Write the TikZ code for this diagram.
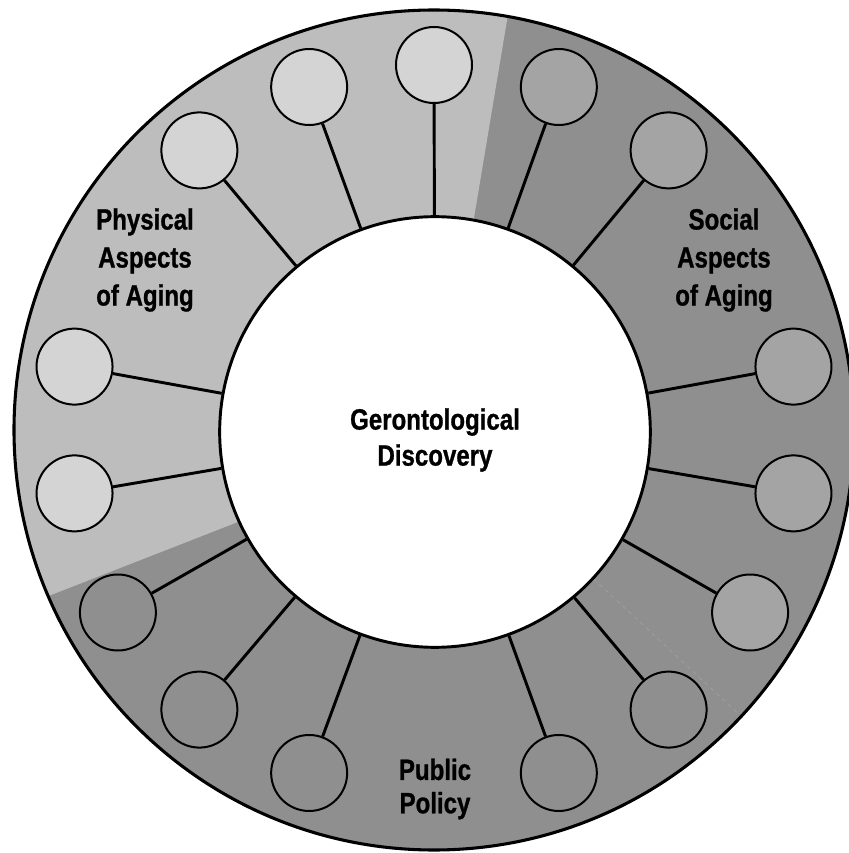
\documentclass[tikz,border=0pt]{standalone}
\usepackage{fontspec}
\newfontfamily\lblfont{Liberation Sans}[FakeStretch=0.82,FakeBold=0.9]
\definecolor{ringdark}{HTML}{8F8F8F}
\definecolor{ringlight}{HTML}{BDBDBD}
\definecolor{physdot}{HTML}{D4D4D4}
\definecolor{socdot}{HTML}{A4A4A4}
\definecolor{faintline}{HTML}{9E9E9E}
\begin{document}
\begin{tikzpicture}[x=0.75pt,y=0.75pt,
  dot/.style={circle,draw=black,line width=1.5pt,minimum size=57pt,inner sep=0pt},
  link/.style={line width=2.2pt},
  lbl/.style={font=\lblfont\bfseries\fontsize{22}{27}\selectfont,align=center,text=black,inner sep=0pt}]
\useasboundingbox (-434,-423) rectangle (415,430);
% ring background
\fill[ringdark] (0,0) circle (420);
\fill[ringlight] (79.3:213) -- (79.9:420) arc[start angle=79.9,end angle=203.3,radius=420] -- (205.2:213) -- cycle;
\draw[faintline,dashed,line width=0.6pt] (-43:218) -- (-43:418);
\draw[line width=2.3pt] (0,0) circle (420);
% centre
\node[circle,draw=black,fill=white,line width=2.2pt,minimum size=323pt,inner sep=0pt] (core) at (1,-2) {};
\node[lbl] (gd) at (1,-10) {Gerontological\\Discovery};
% satellites
\foreach \a/\n/\c in {90/p1/physdot,110/p2/physdot,130/p3/physdot,170/p4/physdot,190/p5/physdot,
                      210/q1/ringdark,230/q2/ringdark,250/q3/ringdark,290/q4/ringdark,310/q5/ringdark,
                      330/s1/socdot,350/s2/socdot,10/s3/socdot,50/s4/socdot,70/s5/socdot}{
  \node[dot,fill=\c] (\n) at (\a:365) {};
  \draw[link] (\n) -- (core);
}
% labels
\node[lbl,font=\lblfont\bfseries\fontsize{22}{28.5}\selectfont] (phys) at (-289,170) {Physical\\Aspects\\of Aging};
\node[lbl,font=\lblfont\bfseries\fontsize{22}{28.5}\selectfont] (soc) at (290,170) {Social\\Aspects\\of Aging};
\node[lbl,font=\lblfont\bfseries\fontsize{22}{25}\selectfont] (pub) at (1,-359) {Public\\Policy};
\end{tikzpicture}
\end{document}
